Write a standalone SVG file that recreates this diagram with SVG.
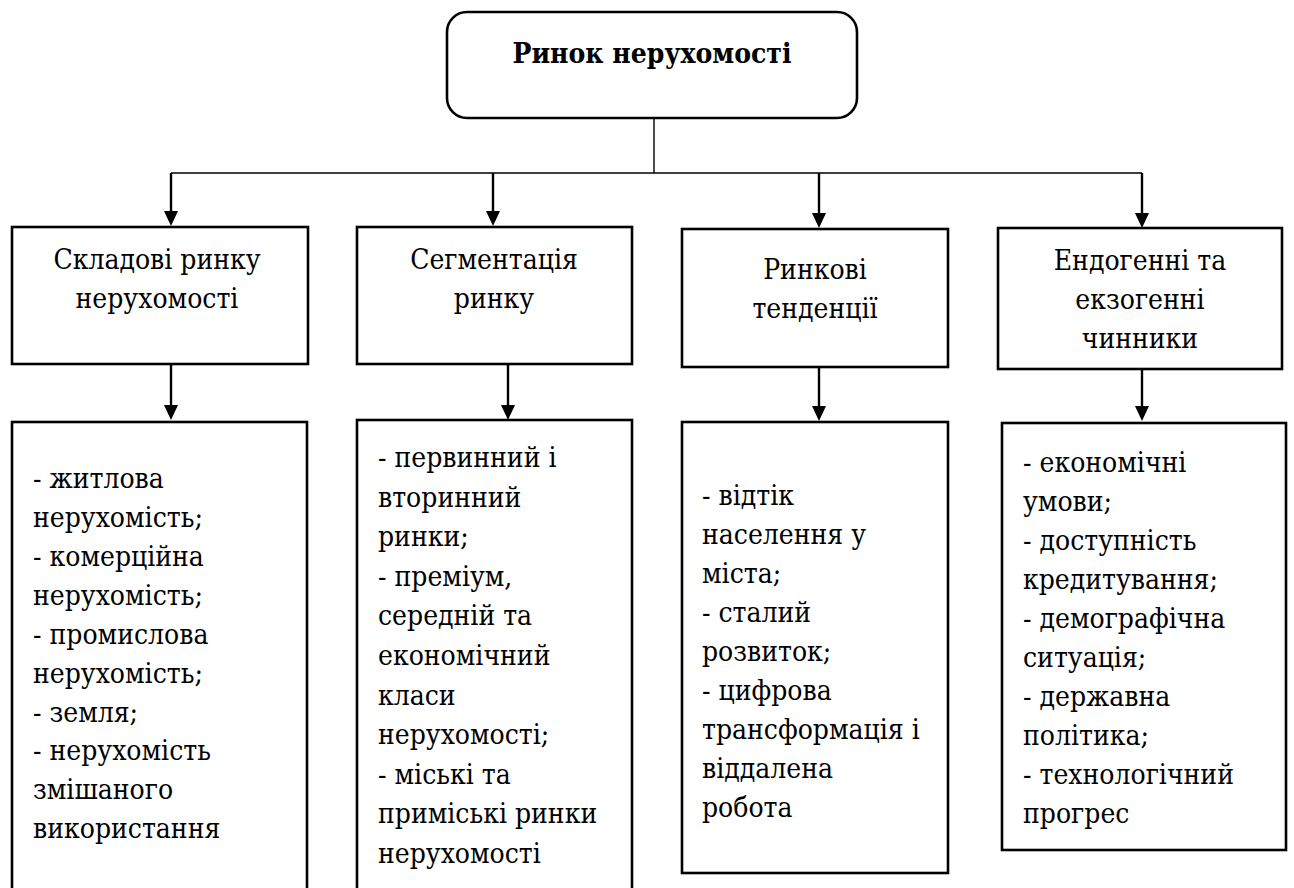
<svg xmlns="http://www.w3.org/2000/svg" width="1294" height="888" viewBox="0 0 1294 888">
<defs>
<style>
.box{fill:#fff;stroke:#000;stroke-width:2.6}
.t{font-family:"DejaVu Serif Condensed","DejaVu Serif",serif;font-stretch:condensed;font-size:28px;fill:#000}
.c{text-anchor:middle}
.title{font-weight:bold}
.ln{stroke:#000;stroke-width:1.4;fill:none}
.ar{stroke:#000;stroke-width:2.4;fill:none}
</style>
</defs>
<rect width="1294" height="888" fill="#fff"/>
<g id="connectors">
<line class="ln" x1="654" y1="118" x2="654" y2="173"/>
<line class="ln" x1="171" y1="173" x2="1142" y2="173"/>
<path class="ar" d="M171,173 V211"/><path d="M164,211 L178,211 L171,226 Z"/>
<path class="ar" d="M493,173 V211"/><path d="M486,211 L500,211 L493,226 Z"/>
<path class="ar" d="M819,173 V213"/><path d="M812,213 L826,213 L819,228 Z"/>
<path class="ar" d="M1142,173 V213"/><path d="M1135,213 L1149,213 L1142,228 Z"/>
<path class="ar" d="M171,364 V405"/><path d="M164,405 L178,405 L171,420 Z"/>
<path class="ar" d="M508,364 V405"/><path d="M501,405 L515,405 L508,420 Z"/>
<path class="ar" d="M819,367 V406"/><path d="M812,406 L826,406 L819,421 Z"/>
<path class="ar" d="M1142,369 V406"/><path d="M1135,406 L1149,406 L1142,421 Z"/>
</g>
<g id="root">
<rect class="box" x="447" y="12" width="410" height="106" rx="20"/>
<text class="t c title" x="652" y="63">Ринок нерухомості</text>
</g>
<g id="n1">
<rect class="box" x="12" y="227" width="296" height="137"/>
<text class="t c" x="157" y="269">Складові ринку</text>
<text class="t c" x="157" y="308">нерухомості</text>
</g>
<g id="n2">
<rect class="box" x="357" y="227" width="275" height="137"/>
<text class="t c" x="494" y="269">Сегментація</text>
<text class="t c" x="494" y="308">ринку</text>
</g>
<g id="n3">
<rect class="box" x="682" y="229" width="266" height="138"/>
<text class="t c" x="815" y="279">Ринкові</text>
<text class="t c" x="815" y="318">тенденції</text>
</g>
<g id="n4">
<rect class="box" x="998" y="228" width="284" height="141"/>
<text class="t c" x="1140" y="270">Ендогенні та</text>
<text class="t c" x="1140" y="309">екзогенні</text>
<text class="t c" x="1140" y="348">чинники</text>
</g>
<g id="d1">
<rect class="box" x="12" y="422" width="295" height="480"/>
<text class="t" x="33" y="488">- житлова</text>
<text class="t" x="33" y="527">нерухомість;</text>
<text class="t" x="33" y="566">- комерційна</text>
<text class="t" x="33" y="605">нерухомість;</text>
<text class="t" x="33" y="644">- промислова</text>
<text class="t" x="33" y="683">нерухомість;</text>
<text class="t" x="33" y="722">- земля;</text>
<text class="t" x="33" y="760">- нерухомість</text>
<text class="t" x="33" y="799">змішаного</text>
<text class="t" x="33" y="838">використання</text>
</g>
<g id="d2">
<rect class="box" x="357" y="420" width="275" height="480"/>
<text class="t" x="378" y="467">- первинний і</text>
<text class="t" x="378" y="506.6">вторинний</text>
<text class="t" x="378" y="546.2">ринки;</text>
<text class="t" x="378" y="585.8">- преміум,</text>
<text class="t" x="378" y="625.4">середній та</text>
<text class="t" x="378" y="665">економічний</text>
<text class="t" x="378" y="704.6">класи</text>
<text class="t" x="378" y="744.2">нерухомості;</text>
<text class="t" x="378" y="783.8">- міські та</text>
<text class="t" x="378" y="823.4">приміські ринки</text>
<text class="t" x="378" y="863">нерухомості</text>
</g>
<g id="d3">
<rect class="box" x="682" y="422" width="266" height="451"/>
<text class="t" x="702" y="505">- відтік</text>
<text class="t" x="702" y="544">населення у</text>
<text class="t" x="702" y="583">міста;</text>
<text class="t" x="702" y="622">- сталий</text>
<text class="t" x="702" y="661">розвиток;</text>
<text class="t" x="702" y="700">- цифрова</text>
<text class="t" x="702" y="739">трансформація і</text>
<text class="t" x="702" y="778">віддалена</text>
<text class="t" x="702" y="817">робота</text>
</g>
<g id="d4">
<rect class="box" x="1002" y="423" width="284" height="427"/>
<text class="t" x="1023" y="472">- економічні</text>
<text class="t" x="1023" y="511">умови;</text>
<text class="t" x="1023" y="550">- доступність</text>
<text class="t" x="1023" y="589">кредитування;</text>
<text class="t" x="1023" y="628">- демографічна</text>
<text class="t" x="1023" y="667">ситуація;</text>
<text class="t" x="1023" y="706">- державна</text>
<text class="t" x="1023" y="745">політика;</text>
<text class="t" x="1023" y="784">- технологічний</text>
<text class="t" x="1023" y="823">прогрес</text>
</g>
</svg>
